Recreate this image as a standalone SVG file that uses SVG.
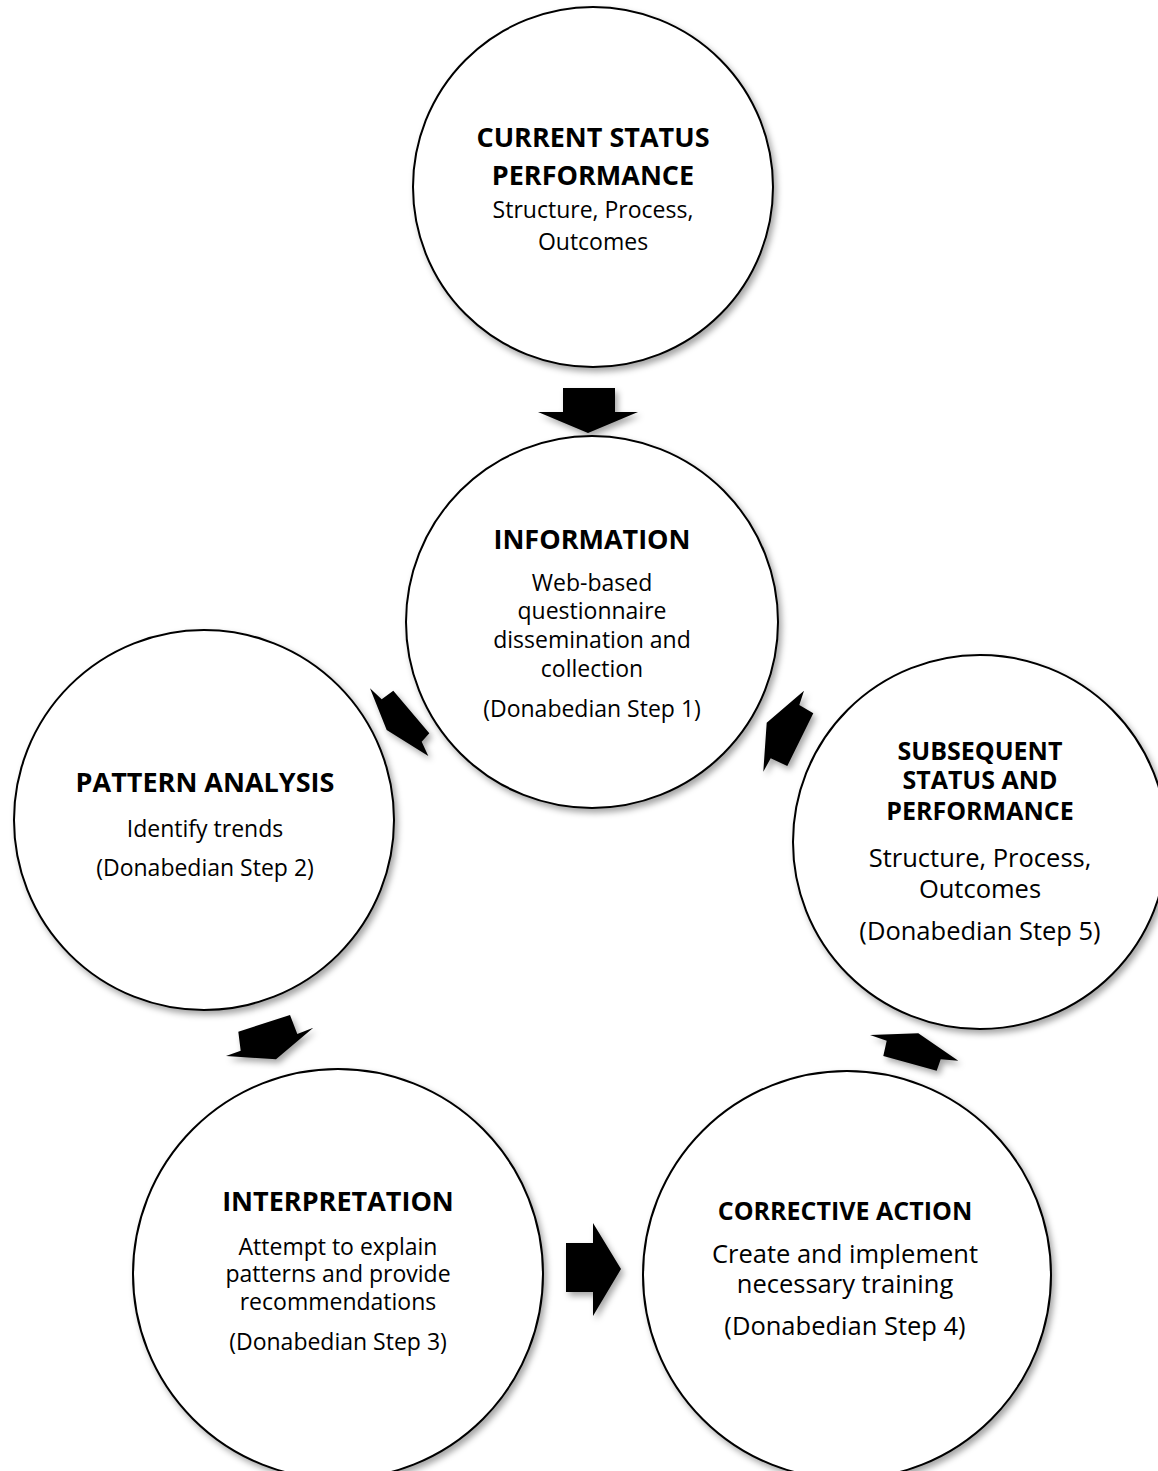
<svg xmlns="http://www.w3.org/2000/svg" width="1158" height="1471" viewBox="0 0 1158 1471">
<defs>
<filter id="sh" x="-20%" y="-20%" width="140%" height="140%">
<feDropShadow dx="3" dy="4" stdDeviation="3" flood-color="#000" flood-opacity="0.35"/>
</filter>
<style>
.c{fill:#fff;stroke:#000;stroke-width:2;filter:url(#sh)}
.a{fill:#000;filter:url(#sh)}
text{font-family:"Open Sans","Noto Sans","DejaVu Sans",sans-serif;fill:#000;text-anchor:middle}
.t1{font-weight:bold;font-size:27px}
.t2{font-weight:bold;font-size:25px}
.b1{font-size:23px}
.b2{font-size:25.5px}
</style>
</defs>
<rect width="1158" height="1471" fill="#fff"/>
<g id="connectors">
<polygon class="a" points="563,388 615,388 615,412 638,412 588,433 538,412 563,412"/>
<polygon class="a" points="370,688.3 381.7,699.3 393.3,690.7 429.3,733.3 421.7,741.7 428.3,756 386.7,730"/>
<polygon class="a" points="804,690.7 799.3,705 813.3,713.3 787.3,766 770.7,758.3 763.3,771.7 766.7,722.7"/>
<polygon class="a" points="238.3,1031.7 290,1015 297.3,1034 313.3,1027.7 276,1059.3 226,1056 240.7,1050.7"/>
<polygon class="a" points="870,1035 918.3,1033.3 958.3,1060.7 940.7,1059.3 936.7,1070.7 883.3,1056 886.7,1040.7"/>
<polygon class="a" points="566,1243 593,1243 593,1223 621,1269 593,1316 593,1292 566,1292"/>
</g>
<g id="current">
<circle class="c" cx="593" cy="187" r="180"/>
<text class="t1" x="593" y="147">CURRENT STATUS</text>
<text class="t1" x="593" y="185">PERFORMANCE</text>
<text class="b1" x="593" y="218">Structure, Process,</text>
<text class="b1" x="593" y="250">Outcomes</text>
</g>
<g id="information">
<circle class="c" cx="592" cy="622" r="186"/>
<text class="t1" x="592" y="549">INFORMATION</text>
<text class="b1" x="592" y="591">Web-based</text>
<text class="b1" x="592" y="619">questionnaire</text>
<text class="b1" x="592" y="648">dissemination and</text>
<text class="b1" x="592" y="677">collection</text>
<text class="b1" x="592" y="717">(Donabedian Step 1)</text>
</g>
<g id="pattern">
<circle class="c" cx="204" cy="820" r="190"/>
<text class="t1" x="205" y="792">PATTERN ANALYSIS</text>
<text class="b1" x="205" y="837">Identify trends</text>
<text class="b1" x="205" y="876">(Donabedian Step 2)</text>
</g>
<g id="subsequent">
<circle class="c" cx="980" cy="842" r="187"/>
<text class="t2" x="980" y="760">SUBSEQUENT</text>
<text class="t2" x="980" y="789">STATUS AND</text>
<text class="t2" x="980" y="820">PERFORMANCE</text>
<text class="b2" x="980" y="867">Structure, Process,</text>
<text class="b2" x="980" y="898">Outcomes</text>
<text class="b2" x="980" y="940">(Donabedian Step 5)</text>
</g>
<g id="interpretation">
<circle class="c" cx="338" cy="1274" r="205"/>
<text class="t1" x="338" y="1211">INTERPRETATION</text>
<text class="b1" x="338" y="1255">Attempt to explain</text>
<text class="b1" x="338" y="1282">patterns and provide</text>
<text class="b1" x="338" y="1310">recommendations</text>
<text class="b1" x="338" y="1350">(Donabedian Step 3)</text>
</g>
<g id="corrective">
<circle class="c" cx="847" cy="1275" r="204"/>
<text class="t2" x="845" y="1220">CORRECTIVE ACTION</text>
<text class="b2" x="845" y="1263">Create and implement</text>
<text class="b2" x="845" y="1293">necessary training</text>
<text class="b2" x="845" y="1335">(Donabedian Step 4)</text>
</g>
</svg>
